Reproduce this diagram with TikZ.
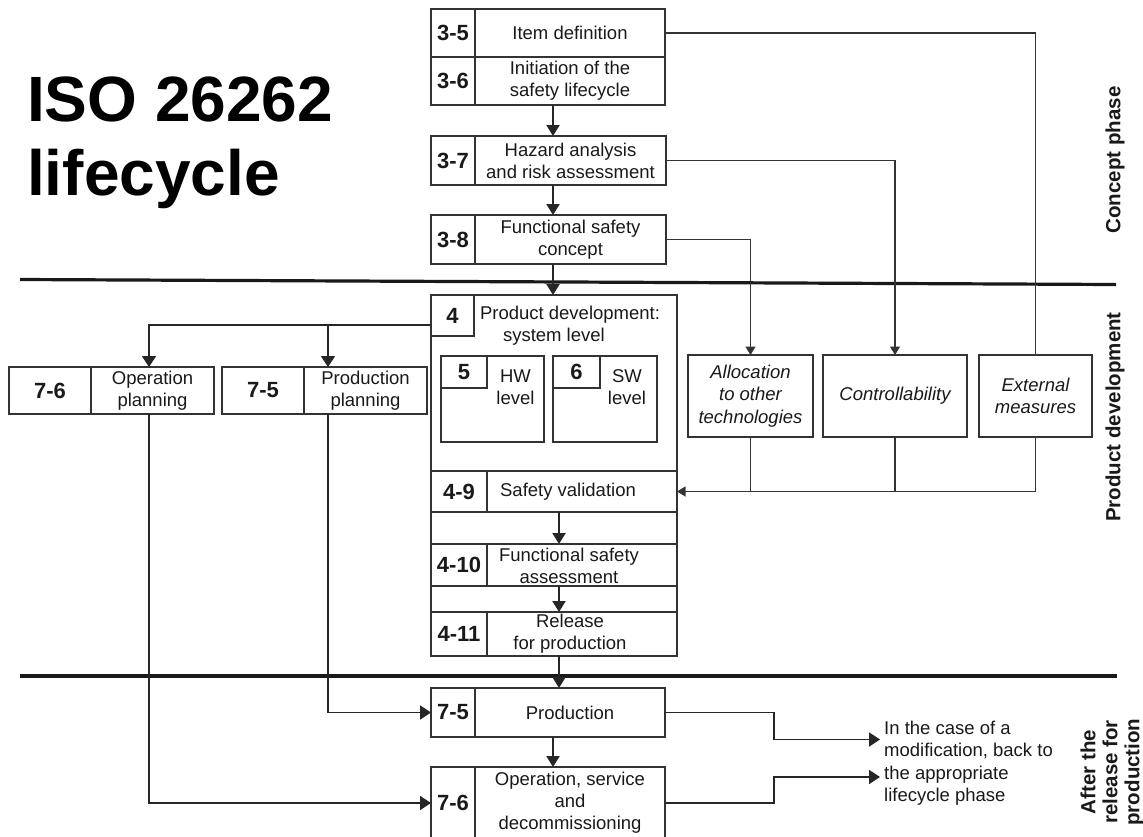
\documentclass[tikz,border=0pt]{standalone}
\usepackage{fontspec}
\setmainfont{Liberation Sans}
\usetikzlibrary{arrows.meta}

\begin{document}
\begin{tikzpicture}[x=1pt,y=-1pt,
  cell/.style={draw=black!80, line width=1.2pt, inner sep=0pt, outer sep=0pt,
    anchor=north west, align=center, text=black!90,
    font=\fontsize{18.5}{22}\selectfont},
  numcell/.style={cell, font=\fontsize{22}{26}\selectfont\bfseries},
  ital/.style={cell, font=\fontsize{18.5}{22.5}\selectfont\itshape},
  txt/.style={inner sep=0pt, align=center, text=black!90,
    font=\fontsize{18.5}{22}\selectfont},
  phase/.style={inner sep=0pt, align=center, rotate=90, text=black!90,
    font=\fontsize{20.5}{22}\selectfont\bfseries},
  mainarrow/.style={draw=black!85, line width=2.2pt, -{Triangle[length=11pt,width=13pt]}},
  midarrow/.style={draw=black!85, line width=1.8pt, -{Triangle[length=11pt,width=14pt]}},
  thinarrow/.style={draw=black!80, line width=1.2pt, -{Triangle[length=8.5pt,width=10pt]}},
  thinline/.style={draw=black!80, line width=1.2pt},
  rule/.style={draw=black!90, line width=3.2pt}
]
\useasboundingbox (0,0) rectangle (1143,836);

% title
\node[anchor=base west, align=left, inner sep=0pt,
      font=\fontsize{64}{74}\selectfont\bfseries] (title) at (27,195) {ISO 26262\\lifecycle};

% phase separators
\draw[rule] (20,279.5) -- (1116,284.5);
\draw[rule] (20,676) -- (1117,676);

% phase names
\node[phase] (ph1) at (1115,160) {Concept phase};
\node[phase] (ph2) at (1115,417) {Product development};
\node[phase] (ph3) at (1112,772) {After the\\release for\\production};

% concept phase
\node[numcell, minimum width=44, minimum height=48] (n35) at (431,9) {3-5};
\node[cell, minimum width=190, minimum height=48] (t35) at (475,9) {Item definition};
\node[numcell, minimum width=44, minimum height=48] (n36) at (431,57) {3-6};
\node[cell, minimum width=190, minimum height=48] (t36) at (475,57) {Initiation of the\\safety lifecycle};
\node[numcell, minimum width=44, minimum height=49] (n37) at (431,136) {3-7};
\node[cell, minimum width=191, minimum height=49] (t37) at (475,136) {Hazard analysis\\and risk assessment};
\node[numcell, minimum width=44, minimum height=49] (n38) at (431,215) {3-8};
\node[cell, minimum width=191, minimum height=49] (t38) at (475,215) {Functional safety\\concept};

% product development: system level
\node[cell, minimum width=246, minimum height=361] (b4) at (431,295) {};
\node[numcell, minimum width=43, minimum height=41] (n4) at (431,295) {4};
\node[txt, align=left] (l4) at (570,326) {Product development:\\\hspace*{23pt}system level};

\node[cell, minimum width=103, minimum height=86] (hw) at (441,356) {};
\node[numcell, minimum width=46, minimum height=32] (n5) at (441,356) {5};
\node[txt] (lhw) at (515.5,387) {HW\\level};
\node[cell, minimum width=104, minimum height=86] (sw) at (553,356) {};
\node[numcell, minimum width=47, minimum height=32] (n6) at (553,356) {6};
\node[txt] (lsw) at (627,387) {SW\\level};

\node[cell, minimum width=246, minimum height=41] (r49) at (431,471) {};
\node[numcell, minimum width=56, minimum height=41] (n49) at (431,471) {4-9};
\node[txt] (l49) at (568,491.5) {Safety validation};
\node[cell, minimum width=246, minimum height=42] (r410) at (431,544) {};
\node[numcell, minimum width=56, minimum height=42] (n410) at (431,544) {4-10};
\node[txt] (l410) at (569,566) {Functional safety\\assessment};
\node[cell, minimum width=246, minimum height=44] (r411) at (431,612) {};
\node[numcell, minimum width=56, minimum height=44] (n411) at (431,612) {4-11};
\node[txt] (l411) at (570,634) {Release\\for production};

% planning boxes
\node[numcell, minimum width=82, minimum height=47] (n76p) at (9,367) {7-6};
\node[cell, minimum width=123, minimum height=47] (t76p) at (91,367) {Operation\\planning};
\node[numcell, minimum width=82, minimum height=47] (n75p) at (222,367) {7-5};
\node[cell, minimum width=123, minimum height=47] (t75p) at (304,367) {Production\\planning};

% additional measures
\node[ital, minimum width=125, minimum height=82] (alloc) at (688,355) {Allocation\\to other\\technologies};
\node[ital, minimum width=144, minimum height=82] (ctrl) at (823,355) {Controllability};
\node[ital, minimum width=113, minimum height=82] (ext) at (979,355) {External\\measures};

% after the release for production
\node[numcell, minimum width=44, minimum height=49] (n75) at (431,688) {7-5};
\node[cell, minimum width=190, minimum height=49] (t75) at (475,688) {Production};
\node[numcell, minimum width=44, minimum height=72] (n76) at (431,767) {7-6};
\node[cell, minimum width=190, minimum height=72] (t76) at (475,767) {Operation, service\\and\\decommissioning};

\node[anchor=west, align=left, inner sep=0pt, text=black!90,
      font=\fontsize{18.5}{22.5}\selectfont] (note) at (884,763)
  {In the case of a\\modification, back to\\the appropriate\\lifecycle phase};

% helper coordinates
\coordinate (spine) at (553,0);
\coordinate (spineb) at (559,0);
\coordinate (fork) at (431,325);
\coordinate (opx) at (149,0);
\coordinate (prx) at (328,0);
\coordinate (jog) at (774,0);
\coordinate (ret1) at (880,739.5);
\coordinate (ret2) at (880,777);

% main flow
\draw[mainarrow] (t36.south -| spine) -- (t37.north -| spine);
\draw[mainarrow] (t37.south -| spine) -- (t38.north -| spine);
\draw[mainarrow] (t38.south -| spine) -- (b4.north -| spine);
\draw[mainarrow] (r49.south -| spineb) -- (r410.north -| spineb);
\draw[mainarrow] (r410.south -| spineb) -- (r411.north -| spineb);
\draw[mainarrow] (r411.south -| spineb) -- (t75.north -| spineb);
\draw[mainarrow] (t75.south -| spine) -- (t76.north -| spine);

% concept phase to measures
\draw[thinline] (t35.east) -| (ext.north);
\draw[thinarrow] (t37.east) -| (ctrl.north);
\draw[thinarrow] (t38.east) -| (alloc.north);

% measures to safety validation
\draw[thinarrow] (ext.south) |- (r49.east);
\draw[thinline] (alloc.south) -- (alloc.south |- r49.east);
\draw[thinline] (ctrl.south) -- (ctrl.south |- r49.east);

% planning
\draw[midarrow] (fork) -| (opx |- t76p.north);
\draw[midarrow] (prx |- fork) -- (prx |- t75p.north);
\draw[midarrow] (opx |- t76p.south) |- (n76.west);
\draw[midarrow] (prx |- t75p.south) |- (n75.west);

% back to the appropriate lifecycle phase
\draw[midarrow] (t75.east) -- (t75.east -| jog) -- (jog |- ret1) -- (ret1);
\draw[midarrow] (t76.east) -- (t76.east -| jog) -- (jog |- ret2) -- (ret2);

\end{tikzpicture}
\end{document}
